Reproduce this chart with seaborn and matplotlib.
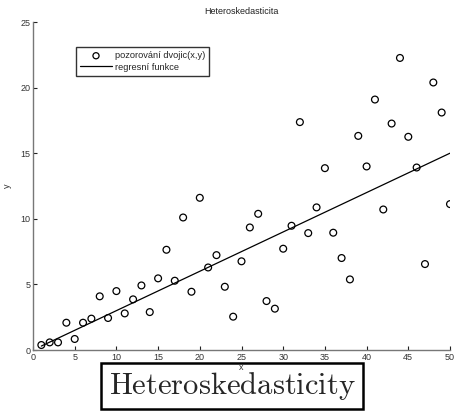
import numpy as np
import pandas as pd
import matplotlib
matplotlib.use("Agg")
import matplotlib.pyplot as plt
import seaborn as sns

x_vals = list(range(1, 51))
y_vals = [0.38, 0.58, 0.58, 2.08, 0.84, 2.08, 2.39, 4.09, 2.44, 4.49,
          2.79, 3.86, 4.92, 2.89, 5.46, 7.64, 5.28, 10.10, 4.44, 11.6,
          6.29, 7.23, 4.82, 2.54, 6.76, 9.34, 10.38, 3.73, 3.15, 7.72,
          9.47, 17.37, 8.91, 10.87, 13.86, 8.94, 7.01, 5.38, 16.32, 13.99,
          19.09, 10.71, 17.26, 22.26, 16.25, 13.91, 6.55, 20.39, 18.10, 11.12]
# regression function: y = slope * x + intercept
reg_slope = 0.30
reg_intercept = 0.0
x_ticks = [0, 5, 10, 15, 20, 25, 30, 35, 40, 45, 50]
y_ticks = [0, 5, 10, 15, 20, 25]
title = "Heteroskedasticita"
legend_labels = ["pozorování dvojic(x,y)", "regresní funkce"]
caption = "Heteroskedasticity"

sns.set_style("white")
plt.rcParams['font.family'] = ['Liberation Sans', 'DejaVu Sans']
plt.rcParams['mathtext.fontset'] = 'cm'

df = pd.DataFrame({"x": x_vals, "y": y_vals})
df["fit"] = reg_slope * df["x"] + reg_intercept

W, H = 454, 412
fig = plt.figure(figsize=(W / 100, H / 100), dpi=100)
ax = fig.add_axes([33 / W, 1 - 350 / H, (450 - 33) / W, (350 - 22) / H])

sns.scatterplot(data=df, x="x", y="y", ax=ax, marker="o", s=24,
                facecolors="none", edgecolor="black", linewidth=0.9,
                label=legend_labels[0])
sns.lineplot(data=df, x="x", y="fit", ax=ax, color="black", linewidth=0.9,
             label=legend_labels[1])

ax.set_xlim(0, 50)
ax.set_ylim(0, 25)
ax.set_xticks(x_ticks)
ax.set_yticks(y_ticks)
ax.set_xlabel("x", fontsize=6.5, color="#333333", labelpad=1)
ax.set_ylabel("y", fontsize=6.5, color="#333333", labelpad=6)
ax.set_title(title, fontsize=6.5, color="#222222", pad=6)
for s in ["top", "right"]:
    ax.spines[s].set_visible(False)
for s in ["left", "bottom"]:
    ax.spines[s].set_color("#777777")
    ax.spines[s].set_linewidth(1.0)
ax.tick_params(direction="in", length=3, width=0.8, color="#222222",
               labelsize=6.5, labelcolor="#333333", pad=2,
               left=True, bottom=True)

leg = ax.legend(loc="upper left", bbox_to_anchor=((76 - 33) / 417, 1 - (47 - 22) / 328),
                fontsize=6.7, frameon=True, fancybox=False, borderpad=0.45,
                handlelength=3.4, handletextpad=0.3, labelspacing=0.25,
                borderaxespad=0, markerscale=0.9)
leg.get_frame().set_edgecolor("black")
leg.get_frame().set_linewidth(1.0)

fig.text(232 / W, 1 - 386 / H, r"$\mathrm{" + caption + "}$", fontsize=22,
         ha="center", va="center",
         bbox=dict(boxstyle="square,pad=0.24", facecolor="none",
                   edgecolor="black", linewidth=1.8))

fig.savefig("out.png", dpi=100)
